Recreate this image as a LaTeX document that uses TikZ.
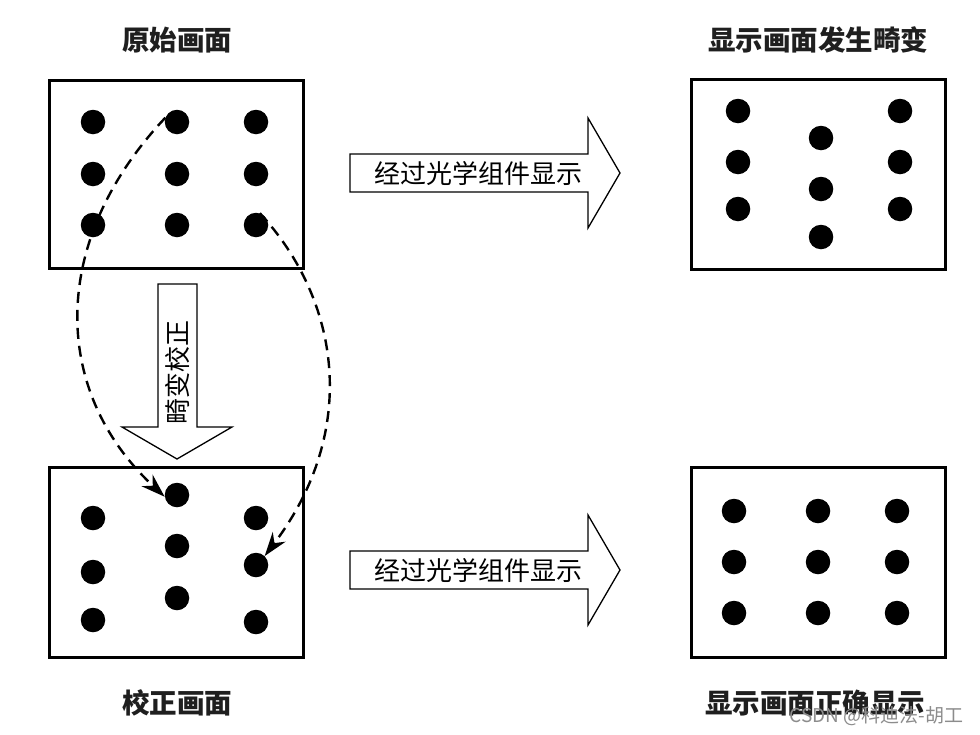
\documentclass[tikz,border=0pt]{standalone}
\usepackage{fontspec}
\setmainfont{Noto Sans CJK SC}
\newfontfamily\cjk{Noto Sans CJK SC}
\usetikzlibrary{arrows.meta}
\begin{document}
\begin{tikzpicture}[x=1pt,y=-1pt,
  frame/.style={draw=black,line width=3pt,fill=white},
  dot/.style={circle,fill=black,inner sep=0pt,minimum size=24.5pt},
  bigarrow/.style={draw=black,line width=1.3pt,fill=white},
  title/.style={font=\fontsize{27.5}{30}\selectfont\cjk\bfseries,text=black!88},
  label/.style={font=\fontsize{26}{28}\selectfont\cjk,text=black},
  curve/.style={draw=black,line width=2.4pt,dash pattern=on 11pt off 7pt,-{Stealth[length=24pt,width=16pt]}}
]
\useasboundingbox (0,0) rectangle (980,734);
\fill[white] (0,0) rectangle (980,734);

% frames
\draw[frame] (49,80) rectangle (303,268);
\draw[frame] (691,79) rectangle (945,269);
\draw[frame] (49,467) rectangle (303,657);
\draw[frame] (691,467) rectangle (945,657);

% titles
\node[title] (t1) at (177,40) {原始画面};
\node[title] (t2) at (818,40) {显示画面发生畸变};
\node[title] (t3) at (177,703) {校正画面};
\node[title] (t4) at (815,703) {显示画面正确显示};

% original dots
\foreach \c/\x in {1/93,2/177,3/256}{
  \foreach \r/\y in {1/122,2/174,3/225}{
    \node[dot] (a\c\r) at (\x,\y) {};
  }
}
% distorted dots
\node[dot] (b11) at (738,111) {};
\node[dot] (b12) at (738,162) {};
\node[dot] (b13) at (738,209) {};
\node[dot] (b21) at (821,138) {};
\node[dot] (b22) at (821,189) {};
\node[dot] (b23) at (821,237) {};
\node[dot] (b31) at (900,111) {};
\node[dot] (b32) at (900,162) {};
\node[dot] (b33) at (900,209) {};
% pre-corrected dots
\node[dot] (c11) at (93,518) {};
\node[dot] (c12) at (93,572) {};
\node[dot] (c13) at (93,620) {};
\node[dot] (c21) at (177,495) {};
\node[dot] (c22) at (177,546) {};
\node[dot] (c23) at (177,598) {};
\node[dot] (c31) at (256,518) {};
\node[dot] (c32) at (256,565) {};
\node[dot] (c33) at (256,622) {};
% correct display dots
\foreach \c/\x in {1/734,2/818,3/897}{
  \foreach \r/\y in {1/511,2/562,3/613}{
    \node[dot] (d\c\r) at (\x,\y) {};
  }
}

% big arrows
\draw[bigarrow] (350,154) -- (588,154) -- (588,118) -- (620,173) -- (588,228) -- (588,192) -- (350,192) -- cycle;
\node[label] (l1) at (478,173) {经过光学组件显示};
\draw[bigarrow] (350,551) -- (588,551) -- (588,515) -- (620,570) -- (588,625) -- (588,589) -- (350,589) -- cycle;
\node[label] (l2) at (478,570) {经过光学组件显示};
\draw[bigarrow] (158,284) -- (197,284) -- (197,427) -- (232,427) -- (177,459) -- (122,427) -- (158,427) -- cycle;
\node[label,rotate=90] (l3) at (178,372) {畸变校正};

% dashed curves
\draw[curve] (a21.160) .. controls (50,240) and (50,390) .. (c21.188);
\draw[curve] (a33.72) .. controls (340,300) and (360,430) .. (c32.46);

% watermark
\node[font=\fontsize{19}{21}\selectfont\cjk,text=black!45,anchor=east] (wm) at (967,716) {CSDN @科迪法-胡工};
\end{tikzpicture}
\end{document}
